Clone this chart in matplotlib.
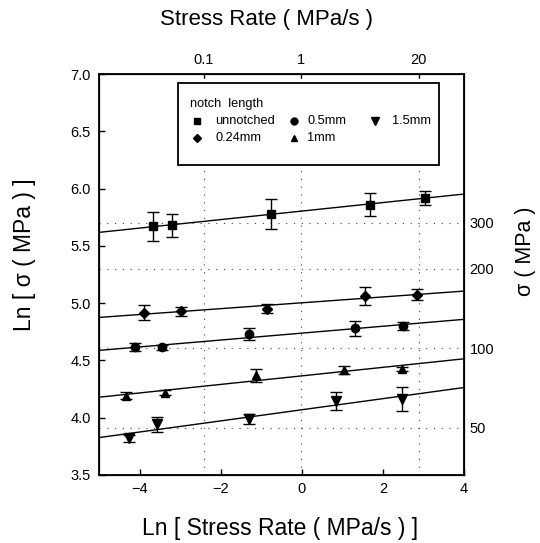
import numpy as np
import matplotlib
matplotlib.use("Agg")
import matplotlib.pyplot as plt
from matplotlib.patches import Rectangle

plt.rcParams['font.family'] = ['Liberation Sans', 'DejaVu Sans']

# ---- data ----
x_unnotched = [-3.68, -3.19, -0.76, 1.68, 3.05]
y_unnotched = [5.67, 5.68, 5.78, 5.86, 5.92]
e_unnotched = [0.125, 0.10, 0.13, 0.10, 0.06]

x_024 = [-3.88, -2.98, -0.85, 1.56, 2.83]
y_024 = [4.915, 4.93, 4.95, 5.06, 5.075]
e_024 = [0.065, 0.04, 0.04, 0.08, 0.05]

x_05 = [-4.11, -3.45, -1.31, 1.30, 2.50]
y_05 = [4.614, 4.614, 4.73, 4.78, 4.80]
e_05 = [0.035, 0.02, 0.05, 0.065, 0.035]

x_1 = [-4.34, -3.38, -1.13, 1.05, 2.46]
y_1 = [4.192, 4.22, 4.37, 4.42, 4.425]
e_1 = [0.03, 0.02, 0.055, 0.035, 0.02]

x_15 = [-4.27, -3.57, -1.30, 0.84, 2.46]
y_15 = [3.82, 3.944, 3.988, 4.148, 4.163]
e_15 = [0.03, 0.065, 0.045, 0.08, 0.105]

series_labels = ['unnotched', '0.24mm', '0.5mm', '1mm', '1.5mm']
series_markers = ['s', 'D', 'o', '^', 'v']

# top axis: ln positions of the ticks
top_tick_pos = [-2.42, -0.03, 2.88]
top_tick_labels = ['0.1', '1', '20']
right_tick_values = [300, 200, 100, 50]
right_tick_labels = ['300', '200', '100', '50']

x_ticks = [-4, -2, 0, 2, 4]
y_ticks = [3.5, 4.0, 4.5, 5.0, 5.5, 6.0, 6.5, 7.0]

W, H = 540, 543
fig = plt.figure(figsize=(W / 100, H / 100), dpi=100)
ax = fig.add_axes([99 / W, 1 - 475 / H, 365 / W, 401 / H])

xs = [x_unnotched, x_024, x_05, x_1, x_15]
ys = [y_unnotched, y_024, y_05, y_1, y_15]
es = [e_unnotched, e_024, e_05, e_1, e_15]
msizes = {'s': 6, 'D': 5, 'o': 6, '^': 6, 'v': 7}

xlim = (-5, 4)
ylim = (3.5, 7.0)

# dotted reference grid
for v in top_tick_pos:
    ax.axvline(v, color='0.25', lw=0.8, ls=(0, (1, 6)), zorder=1)
for v in right_tick_values:
    ax.axhline(np.log(v), color='0.25', lw=0.8, ls=(0, (1, 6)), zorder=1)

fit_x = np.array(xlim)
for x, y, e, m in zip(xs, ys, es, series_markers):
    ax.errorbar(x, y, yerr=e, fmt=m, color='black', ms=msizes[m],
                capsize=4.5, elinewidth=1.0, capthick=1.0, zorder=3)
    k, b = np.polyfit(x, y, 1)
    ax.plot(fit_x, k * fit_x + b, color='black', lw=1.0, zorder=2)

ax.set_xlim(*xlim)
ax.set_ylim(*ylim)
ax.set_xticks(x_ticks)
ax.set_yticks(y_ticks)
ax.set_yticklabels([f"{t:.1f}" for t in y_ticks])
ax.tick_params(direction='in', length=4, width=1, labelsize=10.5)
ax.tick_params(axis='y', pad=6)
ax.tick_params(axis='x', pad=5)
for s in ax.spines.values():
    s.set_linewidth(1.3)

# top axis
axt = ax.twiny()
axt.set_xlim(*xlim)
axt.set_xticks(top_tick_pos)
axt.set_xticklabels(top_tick_labels)
axt.tick_params(direction='in', length=3, width=1, labelsize=10.5, pad=5)

# right axis
axr = ax.twinx()
axr.set_ylim(*ylim)
axr.set_yticks(np.log(right_tick_values))
axr.set_yticklabels(right_tick_labels)
axr.tick_params(direction='in', length=0, labelsize=10.5, pad=4)

# axis titles
fig.text(280 / W, 1 - 529 / H, 'Ln [ Stress Rate ( MPa/s ) ]', fontsize=16.5,
         ha='center', va='center')
fig.text(266 / W, 1 - 20 / H, 'Stress Rate ( MPa/s )', fontsize=16,
         ha='center', va='center')
fig.text(25 / W, 1 - 255 / H, 'Ln [ σ ( MPa ) ]', fontsize=16.5,
         ha='center', va='center', rotation=90)
fig.text(525 / W, 1 - 251 / H, 'σ ( MPa )', fontsize=15.5,
         ha='center', va='center', rotation=90)

# legend (drawn as a boxed key, in axes-fraction coordinates)
def afx(px):
    return (px - 99) / 365

def afy(py):
    return (475 - py) / 401

ax.add_patch(Rectangle((afx(178), afy(165)), afx(439) - afx(178),
                       afy(83) - afy(165), transform=ax.transAxes,
                       facecolor='white', edgecolor='black', lw=1.3,
                       zorder=5, clip_on=False))
ax.text(afx(190), afy(104), 'notch  length', transform=ax.transAxes,
        fontsize=9.2, ha='left', va='center', zorder=6)
key_marker_x = [197, 197, 294, 294, 375]
key_text_x = [215, 215, 307, 307, 392]
key_y = [121, 138, 121, 138, 121]
for m, lab, mx, tx, ky in zip(series_markers, series_labels, key_marker_x,
                              key_text_x, key_y):
    ax.plot([afx(mx)], [afy(ky)], marker=m, color='black', ms=msizes[m] - 1,
            ls='none', transform=ax.transAxes, zorder=6, clip_on=False)
    ax.text(afx(tx), afy(ky), lab, transform=ax.transAxes, fontsize=9.2,
            ha='left', va='center', zorder=6)

fig.savefig('out.png', dpi=100)
